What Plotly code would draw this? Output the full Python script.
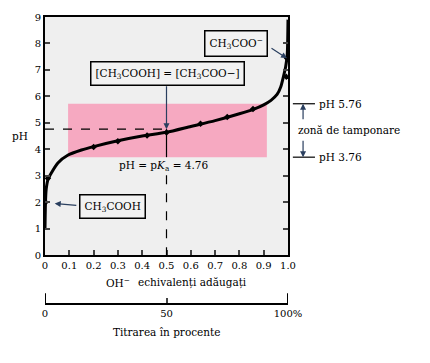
import plotly.graph_objects as go

# --- data ---
equiv_added = [0.0, 0.002, 0.005, 0.012, 0.026, 0.053, 0.095, 0.15, 0.2, 0.3, 0.4, 0.5,
               0.6, 0.7, 0.8, 0.86, 0.9, 0.93, 0.955, 0.97, 0.98, 0.99, 0.997, 1.0]
ph_curve = [1.0, 2.0, 2.5, 2.85, 3.1, 3.48, 3.78, 3.97, 4.1, 4.32, 4.5, 4.64,
            4.86, 5.08, 5.34, 5.52, 5.68, 5.85, 6.07, 6.35, 6.7, 7.1, 7.6, 8.9]
marker_x = [0.002, 0.012, 0.2, 0.3, 0.42, 0.5, 0.64, 0.75, 0.856, 0.993, 0.996]
marker_y = [2.0, 2.9, 4.08, 4.3, 4.52, 4.63, 4.96, 5.22, 5.52, 6.74, 7.44]

x_ticks = [0, 0.1, 0.2, 0.3, 0.4, 0.5, 0.6, 0.7, 0.8, 0.9, 1.0]
x_tick_text = ["0", "0.1", "0.2", "0.3", "0.4", "0.5", "0.6", "0.7", "0.8", "0.9", "1.0"]
y_ticks = [0, 1, 2, 3, 4, 5, 6, 7, 8, 9]
pct_ticks = [0, 50, 100]
pct_tick_text = ["0", "50", "100%"]

pka = 4.76
buffer_lo, buffer_hi = 3.7, 5.72        # drawn band
buffer_x0, buffer_x1 = 0.095, 0.913
half_eq = 0.5

FONT = "DejaVu Serif"
TXT = dict(family=FONT, size=10.5, color="black")
fig = go.Figure()

# buffer band
fig.add_shape(type="rect", xref="x", yref="y", x0=buffer_x0, x1=buffer_x1,
              y0=buffer_lo, y1=buffer_hi, fillcolor="#f6a9c1", line_width=0, layer="below")

# dashed pKa line
fig.add_shape(type="line", xref="x", yref="y", x0=0, x1=half_eq, y0=pka, y1=pka,
              line=dict(color="black", width=1.2, dash="dash"))
# vertical line at half-equivalence
fig.add_shape(type="line", xref="x", yref="y", x0=half_eq, x1=half_eq, y0=pka, y1=buffer_lo,
              line=dict(color="black", width=1.2))
fig.add_shape(type="line", xref="x", yref="y", x0=half_eq, x1=half_eq, y0=3.02, y1=0,
              line=dict(color="black", width=1.2, dash="dash"))

fig.add_trace(go.Scatter(x=equiv_added, y=ph_curve, mode="lines",
                         line=dict(color="black", width=3, shape="spline", smoothing=0.6),
                         showlegend=False, hoverinfo="skip"))
fig.add_trace(go.Scatter(x=marker_x, y=marker_y, mode="markers",
                         marker=dict(color="black", size=5, symbol="diamond"),
                         showlegend=False, hoverinfo="skip"))
# carrier trace for the percentage axis
fig.add_trace(go.Scatter(x=[0, 100], y=[0, 0], mode="markers", xaxis="x2", yaxis="y",
                         marker=dict(opacity=0), showlegend=False, hoverinfo="skip"))

box = dict(bordercolor="black", borderwidth=1.5, bgcolor="#f2f2f2", borderpad=4,
           font=TXT, showarrow=False)

fig.add_annotation(x=0.788, y=7.98, xref="x", yref="y",
                   text="CH<sub>3</sub>COO<sup>−</sup>", **box)
fig.add_annotation(x=0.504, y=6.87, xref="x", yref="y",
                   text="[CH<sub>3</sub>COOH] = [CH<sub>3</sub>COO−]", **box)
fig.add_annotation(x=0.278, y=1.83, xref="x", yref="y",
                   text="CH<sub>3</sub>COOH", **box)

# arrows
fig.add_annotation(x=0.996, y=7.44, ax=0.926, ay=7.85, xref="x", yref="y", axref="x", ayref="y",
                   text="", showarrow=True, arrowhead=2, arrowsize=1, arrowwidth=1.2)
fig.add_annotation(x=0.04, y=1.95, ax=0.135, ay=1.87, xref="x", yref="y", axref="x", ayref="y",
                   text="", showarrow=True, arrowhead=2, arrowsize=1, arrowwidth=1.2)
fig.add_annotation(x=half_eq, y=pka, ax=half_eq, ay=6.44, xref="x", yref="y", axref="x", ayref="y",
                   text="", showarrow=True, arrowhead=2, arrowsize=1, arrowwidth=1.2)

fig.add_annotation(x=0.49, y=3.37, xref="x", yref="y", showarrow=False,
                   text="pH = p<i>K</i><sub>a</sub> = 4.76", font=TXT)

# right-hand buffer zone marks
for yy in (buffer_hi, buffer_lo):
    fig.add_shape(type="line", xref="paper", yref="y", x0=1.02, x1=1.111, y0=yy, y1=yy,
                  line=dict(color="black", width=1.2))
fig.add_annotation(x=1.062, y=buffer_hi, xref="paper", yref="y", ax=0, ay=17,
                   text="", showarrow=True, arrowhead=2, arrowsize=1, arrowwidth=1.2)
fig.add_annotation(x=1.062, y=buffer_lo, xref="paper", yref="y", ax=0, ay=-18,
                   text="", showarrow=True, arrowhead=2, arrowsize=1, arrowwidth=1.2)
fig.add_annotation(x=1.119, y=buffer_hi, xref="paper", yref="y", xanchor="left", showarrow=False,
                   text="pH 5.76", font=TXT)
fig.add_annotation(x=1.119, y=buffer_lo, xref="paper", yref="y", xanchor="left", showarrow=False,
                   text="pH 3.76", font=TXT)
fig.add_annotation(x=1.032, y=4.74, xref="paper", yref="y", xanchor="left", showarrow=False,
                   text="zonă de tamponare", font=TXT)

# axis titles
fig.add_annotation(x=-0.145, y=4.5, xref="paper", yref="y", showarrow=False, text="pH", font=TXT)
fig.add_annotation(x=0.30, y=0.075, xref="x", yref="paper", yanchor="middle", showarrow=False,
                   text="OH<sup>−</sup>", font=TXT)
fig.add_annotation(x=0.605, y=0.075, xref="x", yref="paper", yanchor="middle", showarrow=False,
                   text="echivalenți adăugați", font=TXT)

# end caps for percentage axis
fig.add_shape(type="line", xref="x2", yref="paper", x0=0, x1=0, y0=0, y1=11/293,
              line=dict(color="black", width=2))
fig.add_shape(type="line", xref="x2", yref="paper", x0=100, x1=100, y0=0, y1=11/293,
              line=dict(color="black", width=2))

fig.add_annotation(x=0.5, y=-0.099, xref="paper", yref="paper", yanchor="middle",
                   showarrow=False, text="Titrarea în procente", font=TXT)

y_dom0 = 50 / 293
TICKF = dict(family=FONT, size=10, color="black")
fig.update_layout(
    width=430, height=363,
    margin=dict(l=37, r=150, t=3, b=67),
    paper_bgcolor="white", plot_bgcolor="#efefef",
    showlegend=False,
    font=dict(family=FONT, size=10, color="black"),
    xaxis=dict(range=[0, 1], tickvals=x_ticks, ticktext=x_tick_text, ticks="inside",
               ticklen=5, tickwidth=1.5, showline=True, linecolor="black", linewidth=2,
               mirror=True, showgrid=False, zeroline=False, anchor="y", tickfont=TICKF,
               ticklabeloverflow="allow"),
    yaxis=dict(range=[0, 9], tickvals=y_ticks, ticks="inside", ticklen=5, tickwidth=1.5,
               showline=True, linecolor="black", linewidth=2, mirror="ticks",
               showgrid=False, zeroline=False, domain=[y_dom0, 1], tickfont=TICKF,
               ticklabeloverflow="allow"),
    xaxis2=dict(range=[0, 100], overlaying="x", anchor="free", position=0, side="bottom",
                tickvals=pct_ticks, ticktext=pct_tick_text, ticks="inside", ticklen=5,
                tickwidth=1.5, showline=True, linecolor="black", linewidth=2,
                showgrid=False, zeroline=False, tickfont=TICKF, ticklabeloverflow="allow"),
)

fig.write_html("out.html")
